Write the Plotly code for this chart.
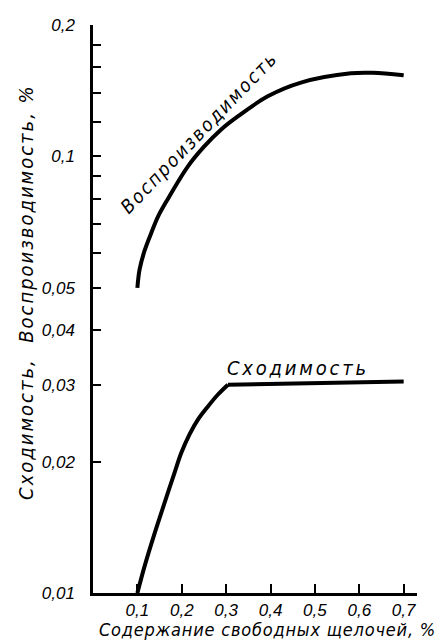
import plotly.graph_objects as go

# Воспроизводимость (upper curve)
x_vosp = [0.1, 0.105, 0.1164, 0.1315, 0.1465, 0.1652, 0.2139, 0.2506, 0.2888, 0.3263,
          0.3937, 0.4685, 0.5809, 0.6303, 0.7]
y_vosp = [0.05, 0.0551, 0.0609, 0.0669, 0.0728, 0.0788, 0.0949, 0.1054, 0.1153, 0.1235,
          0.1373, 0.1476, 0.1550, 0.1554, 0.1534]

# Сходимость (lower curve): rising part, then plateau from the knee at ~0.3
x_shod = [0.1, 0.116, 0.139, 0.161, 0.184, 0.199, 0.2175, 0.236, 0.259, 0.281, 0.304, 0.7]
y_shod = [0.01, 0.01149, 0.01371, 0.01606, 0.0189, 0.02095, 0.02309, 0.02492, 0.02675,
          0.02845, 0.0300, 0.0305]
KNEE = 10  # index of the knee point

x_tickvals = [0.1, 0.2, 0.3, 0.4, 0.5, 0.6, 0.7]
x_ticktext = ["0,1", "0,2", "0,3", "0,4", "0,5", "0,6", "0,7"]
y_tickvals = [0.01, 0.02, 0.03, 0.04, 0.05, 0.06, 0.07, 0.08, 0.09, 0.1,
              0.12, 0.14, 0.16, 0.18, 0.2]
y_ticktext = ["0,01", "0,02", "0,03", "0,04", "0,05", "", "", "", "", "0,1",
              "", "", "", "", "0,2"]

TICKFONT = "Liberation Sans Narrow, Liberation Sans, DejaVu Sans"
FONT = "DejaVu Sans Condensed, Liberation Sans Narrow, DejaVu Sans"

def spaced(t, px=2.0):
    return f'<span style="letter-spacing:{px}px">{t}</span>'

LINE = dict(color="black", width=4)

fig = go.Figure()
fig.add_trace(go.Scatter(x=x_vosp, y=y_vosp, mode="lines",
                         line=dict(LINE, shape="spline", smoothing=1.0),
                         showlegend=False, hoverinfo="skip"))
fig.add_trace(go.Scatter(x=x_shod[:KNEE + 1], y=y_shod[:KNEE + 1], mode="lines",
                         line=dict(LINE, shape="spline", smoothing=1.0),
                         showlegend=False, hoverinfo="skip"))
fig.add_trace(go.Scatter(x=x_shod[KNEE:], y=y_shod[KNEE:], mode="lines",
                         line=dict(LINE),
                         showlegend=False, hoverinfo="skip"))

fig.update_layout(
    width=441, height=643,
    margin=dict(l=93, r=24, t=25, b=50),
    paper_bgcolor="white", plot_bgcolor="white",
    font=dict(family=FONT, color="black", size=15, style="italic"),
    xaxis=dict(range=[0, 0.73], tickvals=x_tickvals, ticktext=x_ticktext,
               showgrid=False, zeroline=False, showline=True, linecolor="black",
               linewidth=2.5, ticks="inside", ticklen=9, tickwidth=2, tickcolor="black",
               ticklabelstandoff=0, automargin=False,
               tickfont=dict(family=TICKFONT, size=17, style="italic", color="black")),
    yaxis=dict(type="log", range=[-2, -0.69897], tickvals=y_tickvals, ticktext=y_ticktext,
               showgrid=False, zeroline=False, showline=True, linecolor="black",
               linewidth=2.5, ticks="inside", ticklen=8, tickwidth=2, tickcolor="black",
               ticklabelstandoff=12, automargin=False,
               tickfont=dict(family=TICKFONT, size=17, style="italic", color="black")),
)

fig.add_annotation(xref="paper", yref="paper", x=-0.207, y=0.530,
                   text=spaced("Сходимость,&nbsp;&nbsp;Воспроизводимость, %", 2.0),
                   textangle=-90, showarrow=False,
                   font=dict(family=FONT, size=20, style="italic", color="black"),
                   xanchor="center", yanchor="middle")
fig.add_annotation(xref="paper", yref="paper", x=0.54, y=-0.065,
                   text=spaced("Содержание свободных щелочей, %", 0.8),
                   showarrow=False,
                   font=dict(family=FONT, size=18, style="italic", color="black"),
                   xanchor="center", yanchor="middle")
fig.add_annotation(x=0.462, y=-1.484, text=spaced("Сходимость", 2.8),
                   showarrow=False, xanchor="center", yanchor="middle",
                   font=dict(family=FONT, size=20, style="italic", color="black"))
fig.add_annotation(x=0.2393, y=-0.945, text=spaced("Воспроизводимость", 2.1),
                   showarrow=False, xanchor="center", yanchor="middle", textangle=-46,
                   font=dict(family=FONT, size=19, style="italic", color="black"))

fig.write_html("out.html", config={"displayModeBar": False},
               post_script="document.body.style.margin='0';")
